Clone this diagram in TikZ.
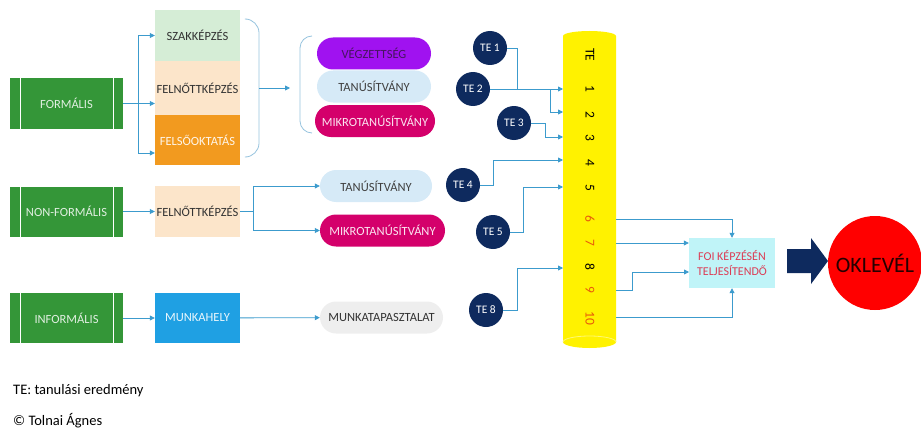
\documentclass[tikz,border=0pt]{standalone}
\usepackage{fontspec}
\setmainfont{Carlito}
\usetikzlibrary{arrows.meta}
\definecolor{zold}{RGB}{52,150,56}
\definecolor{halvanyzold}{RGB}{213,237,214}
\definecolor{barack}{RGB}{252,229,202}
\definecolor{narancs}{RGB}{242,154,31}
\definecolor{lila}{RGB}{160,18,240}
\definecolor{sotetlila}{RGB}{70,20,95}
\definecolor{egkek}{RGB}{214,234,247}
\definecolor{bibor}{RGB}{212,0,107}
\definecolor{sotetkek}{RGB}{14,42,94}
\definecolor{nyilkek}{RGB}{60,155,205}
\definecolor{kapocskek}{RGB}{150,195,222}
\definecolor{munkakek}{RGB}{31,160,227}
\definecolor{szurke}{RGB}{238,238,238}
\definecolor{cian}{RGB}{192,244,248}
\definecolor{foipiros}{RGB}{220,60,85}
\definecolor{szamnarancs}{RGB}{232,90,10}
\def\forrasx{66.5}
\def\kepzesx{197.5}
\def\hengerx{590}
\newcommand{\forras}[3]{
    \node[forrasdoboz] (#1) at (\forrasx,#2) {#3};
    \draw[white, thin] ([xshift=10pt]#1.north west) -- ([xshift=10pt]#1.south west);
    \draw[white, thin] ([xshift=-10pt]#1.north east) -- ([xshift=-10pt]#1.south east);
}
\newcommand{\te}[3]{
    \node[tekor] (#1) at (#2) {#3};
}
\newcommand{\szint}[3][black]{
    \node[rotate=-90, text=#1, font=\fontsize{13.5}{14}\selectfont] (sz#2) at (\hengerx,#3) {#2};
}

\begin{document}
\begin{tikzpicture}[x=1pt, y=-1pt,
    every node/.style={font=\fontsize{12.5}{14}\selectfont, inner sep=0pt},
    forrasdoboz/.style={fill=zold, text=white!85!zold, minimum width=113pt, minimum height=50pt},
    kepzes/.style={minimum width=85pt},
    pirula/.style={rounded corners=16pt, minimum height=32pt},
    tekor/.style={circle, fill=sotetkek, text=white, minimum size=34pt, font=\fontsize{11.5}{13}\selectfont},
    nyil/.style={draw=nyilkek, line width=0.8pt, -{Triangle[length=5pt,width=5pt]}},
    kapocsvonal/.style={draw=kapocskek, line width=0.8pt}]
    \useasboundingbox (0,0) rectangle (921,428);
    % forrasok
    \forras{formalis}{103.5}{FORMÁLIS}
    \forras{nonformalis}{211.5}{NON-FORMÁLIS}
    \forras{informalis}{318}{INFORMÁLIS}
    % kepzesi formak
    \node[kepzes, fill=halvanyzold, minimum height=51pt, text=black!80] (szak) at (\kepzesx,35.5) {SZAKKÉPZÉS};
    \node[kepzes, fill=barack, minimum height=54pt, text=black!80] (felnott) at (\kepzesx,88) {FELNŐTTKÉPZÉS};
    \node[kepzes, fill=narancs, minimum height=50pt, text=white!90!narancs] (felso) at (\kepzesx,140) {FELSŐOKTATÁS};
    \node[kepzes, fill=barack, minimum height=51pt, text=black!80] (felnottb) at (\kepzesx,211.5) {FELNŐTTKÉPZÉS};
    \node[kepzes, fill=munkakek, minimum height=50pt, text=white!90!munkakek] (munkahely) at (\kepzesx,318) {MUNKAHELY};
    % eredmenyek
    \node[pirula, fill=lila, minimum width=114pt, text=sotetlila] (vegz) at (374,53.5) {VÉGZETTSÉG};
    \node[pirula, fill=egkek, minimum width=114pt, text=black!75] (tanus) at (374,86.5) {TANÚSÍTVÁNY};
    \node[pirula, fill=bibor, minimum width=120pt, text=white!90!bibor] (mikro) at (375,121) {MIKROTANÚSÍTVÁNY};
    \node[pirula, fill=egkek, minimum width=112pt, text=black!75] (tanusb) at (376,186) {TANÚSÍTVÁNY};
    \node[pirula, fill=bibor, minimum width=125pt, text=white!90!bibor] (mikrob) at (382.5,230.5) {MIKROTANÚSÍTVÁNY};
    \node[pirula, fill=szurke, minimum width=123pt, text=black!80] (munkatap) at (381.5,317.5) {MUNKATAPASZTALAT};
    % kapcsok
    \draw[kapocsvonal, rounded corners=14pt] (247,19) -| (259,88) |- (247,157);
    \draw[kapocsvonal, rounded corners=12pt] (312,36) -| (300,88) |- (312,133);
    \coordinate (kapocsA) at (259,88);
    \coordinate (kapocsB) at (290,88);
    \draw[nyil] (kapocsA) -- (kapocsB);
    % bal oldali nyilak
    \draw[nyil] (formalis.east) -- (formalis.east -| felnott.west);
    \draw[nyil] (formalis.east) -- ++(15,0) |- (szak.west);
    \draw[nyil] (formalis.east) -- ++(15,0) |- ([yshift=-13pt]felso.west);
    \draw[nyil] (nonformalis) -- (felnottb);
    \draw[nyil] (felnottb.east) -- ++(13,0) |- (tanusb.west);
    \draw[nyil] (felnottb.east) -- ++(13,0) |- (mikrob.west);
    \draw[nyil] (informalis) -- (munkahely);
    \draw[nyil] (munkahely) -- (munkatap);
    % henger
    \fill[yellow] (563,36) arc[start angle=180, end angle=360, x radius=26.5, y radius=5]
        -- (616,342) arc[start angle=0, end angle=180, x radius=26.5, y radius=6] -- cycle;
    \draw[yellow!55!white, line width=0.8pt] (563,342) arc[start angle=180, end angle=360, x radius=26.5, y radius=6];
    \node[rotate=-90, font=\fontsize{13.5}{14}\selectfont] (szTE) at (\hengerx,55) {TE};
    \szint{1}{89}
    \szint{2}{115}
    \szint{3}{138}
    \szint{4}{163}
    \szint{5}{188}
    \szint[szamnarancs]{6}{219}
    \szint[szamnarancs]{7}{243}
    \szint{8}{267}
    \szint[szamnarancs]{9}{290}
    \szint[szamnarancs]{10}{318}
    \foreach \n/\y in {1/89, 2/112, 3/137, 4/160, 5/187, 8/268}
        \coordinate (be\n) at (563,\y);
    \foreach \n/\y in {6/219, 7/243, 9/290, 10/317}
        \coordinate (ki\n) at (616,\y);
    % tanulasi eredmenyek
    \te{te1}{490,48}{TE 1}
    \te{te2}{473,89}{TE 2}
    \te{te3}{514,123}{TE 3}
    \te{te4}{463,185}{TE 4}
    \te{te5}{493,232}{TE 5}
    \te{te8}{486,310}{TE 8}
    \draw[nyil] (te1.east) -- ++(10,0) |- (be1);
    \draw[nyil] (te2.east) -- ++(60,0) |- (be2);
    \draw[nyil] (te3.east) -- ++(14,0) |- (be3);
    \draw[nyil] (te4.east) -- ++(13,0) |- (be4);
    \draw[nyil] (te5.east) -- ++(13,0) |- (be5);
    \draw[nyil] (te8.east) -- ++(14,0) |- (be8);
    % FOI
    \node[fill=cian, minimum width=86pt, minimum height=50pt, align=center, text=foipiros, font=\fontsize{12}{15}\selectfont] (foi) at (732,263) {FOI KÉPZÉSÉN\\TELJESÍTENDŐ};
    \coordinate (foiA) at (689,272);
    \draw[nyil] (ki6) -| (foi.north);
    \draw[nyil] (ki7) -- (ki7 -| foi.west);
    \draw[nyil] (ki9) -- ++(16,0) |- (foiA);
    \draw[nyil] (ki10) -| (foi.south);
    % oklevel
    \node[circle, fill=red, minimum size=94pt, font=\fontsize{22}{24}\selectfont, text=black!85!red] (oklevel) at (875,263) {OKLEVÉL};
    \fill[sotetkek] (787,249) -- (811,249) -- (811,238) -- (828,261) -- (811,284) -- (811,273) -- (787,273) -- cycle;
    % jelmagyarazat
    \node[anchor=west, font=\fontsize{14.5}{16}\selectfont] (jelmagy) at (13,391) {TE: tanulási eredmény};
    \node[anchor=west, font=\fontsize{14.5}{16}\selectfont] (szerzo) at (13,421) {© Tolnai Ágnes};
\end{tikzpicture}
\end{document}
